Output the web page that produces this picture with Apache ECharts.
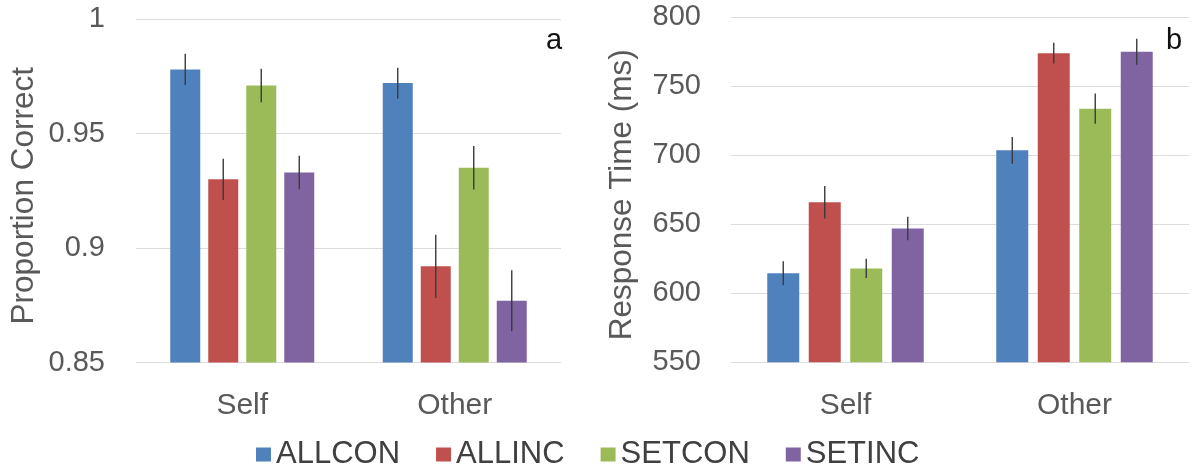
<!DOCTYPE html>
<html>
<head>
<meta charset="utf-8">
<script src="https://cdn.jsdelivr.net/npm/echarts@6/dist/echarts.min.js"></script>
<style>html,body{margin:0;padding:0;background:#fff}#c{width:1196px;height:468px}</style>
</head>
<body>
<div id="c"></div>
<script>
var categories = ['Self', 'Other'];
var seriesNames = ['ALLCON', 'ALLINC', 'SETCON', 'SETINC'];
var colors = ['#4F81BD', '#C0504D', '#9BBB59', '#8064A2'];

// Panel a: proportion correct
var accALLCON = [0.978, 0.972];
var accALLINC = [0.930, 0.892];
var accSETCON = [0.971, 0.935];
var accSETINC = [0.933, 0.877];
var accErrALLCON = [0.0068, 0.0067];
var accErrALLINC = [0.0090, 0.0138];
var accErrSETCON = [0.0073, 0.0095];
var accErrSETINC = [0.0073, 0.0133];
var accTicks = [0.85, 0.9, 0.95, 1];

// Panel b: response time
var rtALLCON = [614.5, 703.6];
var rtALLINC = [666, 774];
var rtSETCON = [618, 733.8];
var rtSETINC = [647, 775];
var rtErrALLCON = [8.7, 9.7];
var rtErrALLINC = [11.8, 7.5];
var rtErrSETCON = [7.0, 10.9];
var rtErrSETINC = [8.5, 9.4];
var rtTicks = [550, 600, 650, 700, 750, 800];

var accVals = [accALLCON, accALLINC, accSETCON, accSETINC];
var accErrs = [accErrALLCON, accErrALLINC, accErrSETCON, accErrSETINC];
var rtVals = [rtALLCON, rtALLINC, rtSETCON, rtSETINC];
var rtErrs = [rtErrALLCON, rtErrALLINC, rtErrSETCON, rtErrSETINC];

var FONT = '"Liberation Sans", Arial, Helvetica, sans-serif';
var GREY = '#595959';

var panels = [
  {grid: {left: 136, top: 19, width: 425, height: 343.5}, barWidth: 30, gap: 8, vals: accVals, errs: accErrs,
   min: accTicks[0], max: accTicks[accTicks.length - 1], interval: accTicks[1] - accTicks[0], name: 'Proportion Correct', nameGap: 96, labelMargin: 31},
  {grid: {left: 731, top: 17.3, width: 458, height: 345}, barWidth: 32, gap: 9.5, vals: rtVals, errs: rtErrs,
   min: rtTicks[0], max: rtTicks[rtTicks.length - 1], interval: rtTicks[1] - rtTicks[0], name: 'Response Time (ms)', nameGap: 93, labelMargin: 30}
];

var grids = [], xAxes = [], yAxes = [], series = [];
panels.forEach(function (p, pi) {
  grids.push(p.grid);
  xAxes.push({
    type: 'category', gridIndex: pi, data: categories,
    axisLine: {show: false}, axisTick: {show: false},
    axisLabel: {color: GREY, fontSize: 30, fontFamily: FONT, margin: 28}
  });
  yAxes.push({
    type: 'value', gridIndex: pi, min: p.min, max: p.max, interval: p.interval,
    name: p.name, nameLocation: 'middle', nameRotate: 90, nameGap: p.nameGap,
    nameTextStyle: {color: GREY, fontSize: 31.5, fontFamily: FONT, padding: [0, 10, 0, 0]},
    axisLine: {show: false}, axisTick: {show: false},
    axisLabel: {color: GREY, fontSize: 29, fontFamily: FONT, margin: p.labelMargin, padding: [6, 0, 0, 0],
      formatter: function (v) { return String(Math.round(v * 1000) / 1000); }},
    splitLine: {lineStyle: {color: '#dcdcdc', width: 1.2}}
  });
  var pitch = p.barWidth + p.gap;
  p.vals.forEach(function (arr, si) {
    series.push({
      type: 'bar', name: seriesNames[si], xAxisIndex: pi, yAxisIndex: pi,
      data: arr, barWidth: p.barWidth, barGap: (p.gap / p.barWidth * 100) + '%',
      itemStyle: {color: colors[si]}, z: 2
    });
  });
  p.vals.forEach(function (arr, si) {
    var errArr = p.errs[si];
    var d = arr.map(function (v, ci) { return [ci, v, errArr[ci]]; });
    series.push({
      type: 'custom', xAxisIndex: pi, yAxisIndex: pi, z: 5, silent: true,
      data: d,
      renderItem: (function (off) {
        return function (params, api) {
          var c = api.value(0), v = api.value(1), e = api.value(2);
          var top = api.coord([c, v + e]);
          var bot = api.coord([c, v - e]);
          var x = top[0] + off;
          return {type: 'line', shape: {x1: x, y1: top[1], x2: x, y2: bot[1]},
                  style: {stroke: '#3a3a3a', lineWidth: 1.4}};
        };
      })((si - 1.5) * pitch)
    });
  });
});

var chart = echarts.init(document.getElementById('c'), null, {renderer: 'canvas'});
chart.setOption({
  animation: false,
  backgroundColor: '#ffffff',
  grid: grids, xAxis: xAxes, yAxis: yAxes, series: series,
  legend: {
    data: seriesNames, left: 256, top: 439, padding: 0, itemWidth: 15, itemHeight: 14, itemGap: 36,
    icon: 'rect',
    textStyle: {color: '#404040', fontSize: 31, fontFamily: FONT}
  },
  graphic: [
    {type: 'text', left: 546, top: 26, style: {text: 'a', fontSize: 29, fontFamily: FONT, fill: '#111'}},
    {type: 'text', left: 1166, top: 26, style: {text: 'b', fontSize: 29, fontFamily: FONT, fill: '#111'}}
  ]
});
</script>
</body>
</html>
